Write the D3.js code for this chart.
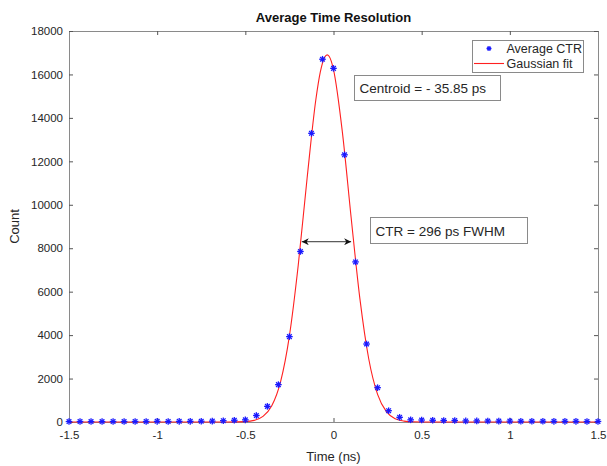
<!DOCTYPE html>
<html>
<head>
<meta charset="utf-8">
<script src="https://cdn.jsdelivr.net/npm/d3@7"></script>
<style>
	body { margin: 0; background: #fff; }
	svg { font-family: 'Liberation Sans', Arial, sans-serif; }
</style>
</head>
<body>
<div id="chart"></div>
<script>
// measured time bins (ns)
const timeBins = [
	-1.5, -1.4375, -1.375, -1.3125, -1.25, -1.1875, -1.125, -1.0625, -1.0,
	-0.9375, -0.875, -0.8125, -0.75, -0.6875, -0.625, -0.5625, -0.5, -0.4375,
	-0.375, -0.3125, -0.25, -0.1875, -0.125, -0.0625, 0, 0.0625, 0.125, 0.1875,
	0.25, 0.3125, 0.375, 0.4375, 0.5, 0.5625, 0.625, 0.6875, 0.75, 0.8125,
	0.875, 0.9375, 1.0, 1.0625, 1.125, 1.1875, 1.25, 1.3125, 1.375, 1.4375, 1.5
]
const ctrCounts = [
	20, 25, 20, 20, 25, 20, 25, 25, 30,
	25, 30, 30, 35, 40, 60, 80, 100, 300,
	720, 1720, 3930, 7850, 13290, 16700, 16280, 12300, 7370, 3590,
	1580, 520, 215, 100, 90, 80, 70, 70, 50, 50,
	45, 40, 40, 35, 35, 35, 30, 30, 30, 25, 25
]

// gaussian fit curve
const fitTimes = [
	-1.5, -0.6, -0.5, -0.45, -0.4, -0.35, -0.3, -0.25, -0.2, -0.15, -0.1,
	-0.075, -0.05, -0.036, -0.025, 0, 0.05, 0.1, 0.15, 0.2, 0.25, 0.3, 0.35,
	0.4, 0.45, 0.55, 1.5
]
const fitCounts = [
	0, 0, 19, 75, 256, 747, 1862, 3968, 7215, 11200, 14845,
	16105, 16795, 16900, 16836, 16222, 13370, 9415, 5655, 2900, 1270, 475, 151,
	41, 10, 0, 0
]

const xTicks = [-1.5, -1, -0.5, 0, 0.5, 1, 1.5]
const yTicks = [0, 2000, 4000, 6000, 8000, 10000, 12000, 14000, 16000, 18000]

const fwhmEnds = [-0.18, 0.1]
const fwhmLevel = 8300

const width = 607
const height = 466
const margin = { top: 31, right: 9, bottom: 44, left: 69 }

const svg = d3
	.select('#chart')
	.append('svg')
	.attr('width', width)
	.attr('height', height)

const x = d3
	.scaleLinear()
	.domain([-1.5, 1.5])
	.range([margin.left, width - margin.right])

const y = d3
	.scaleLinear()
	.domain([0, 18000])
	.range([height - margin.bottom, margin.top])

const axisColor = '#8a8a8a'
const textColor = '#262626'

// axes, ticks pointing inward, box on
function styleAxis(g) {
	g.select('.domain').attr('stroke', axisColor)
	g.selectAll('.tick line').attr('stroke', '#555')
	g.selectAll('.tick text')
		.attr('fill', textColor)
		.style('font-size', '11.5px')
}

// matlab uses a plain hyphen for negatives
const plain = d => String(d)

svg.append('g')
	.attr('transform', `translate(0,${y(0)})`)
	.call(d3.axisBottom(x).tickValues(xTicks).tickSizeInner(-4).tickSizeOuter(0).tickPadding(9)
		.tickFormat(plain))
	.call(styleAxis)

svg.append('g')
	.attr('transform', `translate(0,${y(18000)})`)
	.call(d3.axisTop(x).tickValues(xTicks).tickSizeInner(-4).tickSizeOuter(0).tickFormat(''))
	.call(styleAxis)

svg.append('g')
	.attr('transform', `translate(${x(-1.5)},0)`)
	.call(d3.axisLeft(y).tickValues(yTicks).tickSizeInner(-4).tickSizeOuter(0).tickPadding(6)
		.tickFormat(plain))
	.call(styleAxis)

svg.append('g')
	.attr('transform', `translate(${x(1.5)},0)`)
	.call(d3.axisRight(y).tickValues(yTicks).tickSizeInner(-4).tickSizeOuter(0).tickFormat(''))
	.call(styleAxis)

// gaussian fit
const fitData = fitTimes.map((t, i) => ({ t, c: fitCounts[i] }))
svg.append('path')
	.datum(fitData)
	.attr('fill', 'none')
	.attr('stroke', '#ff2020')
	.attr('stroke-width', 1.1)
	.attr('d', d3.line()
		.x(d => x(d.t))
		.y(d => y(d.c))
		.curve(d3.curveMonotoneX))

// asterisk markers
function asterisk(g, r) {
	g.append('line').attr('x1', -r).attr('x2', r).attr('y1', 0).attr('y2', 0)
	g.append('line').attr('x1', 0).attr('x2', 0).attr('y1', -r).attr('y2', r)
	g.append('line').attr('x1', -r * 0.7).attr('x2', r * 0.7).attr('y1', -r * 0.7).attr('y2', r * 0.7)
	g.append('line').attr('x1', -r * 0.7).attr('x2', r * 0.7).attr('y1', r * 0.7).attr('y2', -r * 0.7)
}

const ctrData = timeBins.map((t, i) => ({ t, c: ctrCounts[i] }))
svg.append('g')
	.selectAll('g')
	.data(ctrData)
	.enter()
	.append('g')
	.attr('transform', d => `translate(${x(d.t)},${y(d.c)})`)
	.attr('stroke', '#1a1aff')
	.attr('stroke-width', 1.3)
	.each(function() {
		asterisk(d3.select(this), 3.3)
	})

// FWHM arrow
svg.append('defs')
	.append('marker')
	.attr('id', 'head')
	.attr('viewBox', '0 0 10 10')
	.attr('refX', 10)
	.attr('refY', 5)
	.attr('markerWidth', 9)
	.attr('markerHeight', 7)
	.attr('markerUnits', 'userSpaceOnUse')
	.attr('orient', 'auto-start-reverse')
	.append('path')
	.attr('d', 'M0,0 L10,5 L0,10 L3,5 Z')
	.attr('fill', '#111')

svg.append('line')
	.attr('x1', x(fwhmEnds[0]))
	.attr('x2', x(fwhmEnds[1]))
	.attr('y1', y(fwhmLevel))
	.attr('y2', y(fwhmLevel))
	.attr('stroke', '#333')
	.attr('stroke-width', 1)
	.attr('marker-start', 'url(#head)')
	.attr('marker-end', 'url(#head)')

// text boxes
function textBox(bx, by, bw, bh, label) {
	svg.append('rect')
		.attr('x', bx)
		.attr('y', by)
		.attr('width', bw)
		.attr('height', bh)
		.attr('fill', '#fff')
		.attr('stroke', '#8a8a8a')
		.attr('stroke-width', 1)
	svg.append('text')
		.attr('x', bx + 5)
		.attr('y', by + bh / 2 + 5)
		.attr('fill', textColor)
		.style('font-size', '13.5px')
		.text(label)
}

textBox(354.5, 75.5, 146, 25, 'Centroid = - 35.85 ps')
textBox(370.5, 217.5, 157, 26, 'CTR = 296 ps FWHM')

// legend
const legend = svg.append('g')
legend.append('rect')
	.attr('x', 472.5)
	.attr('y', 40.5)
	.attr('width', 111)
	.attr('height', 32)
	.attr('fill', '#fff')
	.attr('stroke', '#8a8a8a')

legend.append('g')
	.attr('transform', 'translate(489,48.5)')
	.attr('stroke', '#1a1aff')
	.attr('stroke-width', 1.3)
	.call(g => asterisk(g, 2.5))

legend.append('line')
	.attr('x1', 474)
	.attr('x2', 504)
	.attr('y1', 63.5)
	.attr('y2', 63.5)
	.attr('stroke', '#ff2020')
	.attr('stroke-width', 1.1)

legend.selectAll('text')
	.data(['Average CTR', 'Gaussian fit'])
	.enter()
	.append('text')
	.attr('x', 506.5)
	.attr('y', (d, i) => 53 + i * 15)
	.attr('fill', textColor)
	.style('font-size', '12.5px')
	.text(d => d)

// titles
svg.append('text')
	.attr('x', (x(-1.5) + x(1.5)) / 2)
	.attr('y', 22)
	.attr('text-anchor', 'middle')
	.attr('font-weight', 'bold')
	.attr('fill', '#111')
	.style('font-size', '13px')
	.text('Average Time Resolution')

svg.append('text')
	.attr('x', (x(-1.5) + x(1.5)) / 2)
	.attr('y', 461)
	.attr('text-anchor', 'middle')
	.attr('fill', textColor)
	.style('font-size', '13px')
	.text('Time (ns)')

svg.append('text')
	.attr('transform', `translate(19,${(y(0) + y(18000)) / 2}) rotate(-90)`)
	.attr('text-anchor', 'middle')
	.attr('fill', textColor)
	.style('font-size', '13px')
	.text('Count')
</script>
</body>
</html>
